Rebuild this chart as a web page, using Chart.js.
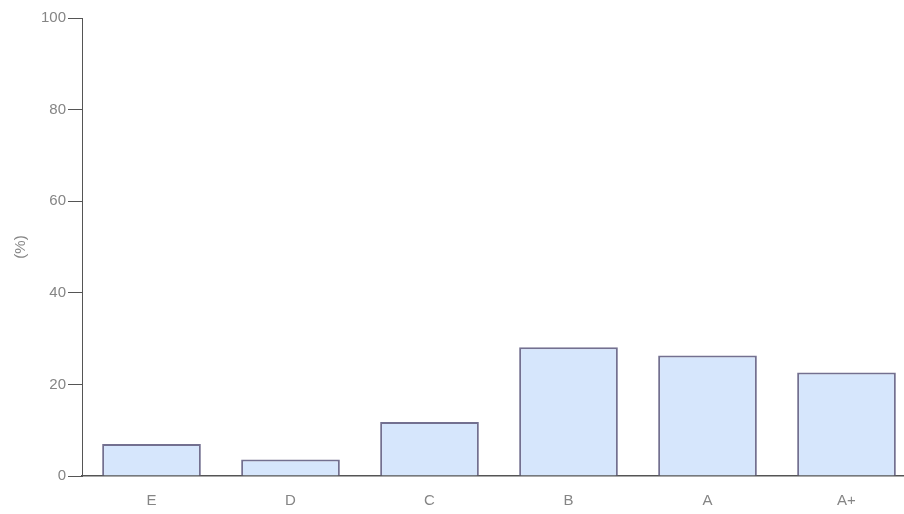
<!DOCTYPE html>
<html>
<head>
<meta charset="utf-8">
<script src="https://cdn.jsdelivr.net/npm/chart.js@4/dist/chart.umd.min.js"></script>
<style>
  html, body { margin: 0; padding: 0; background: #fff; overflow: hidden; }
  /* the original plot runs a little past the right edge of the window */
  #wrap { width: 916px; height: 514px; }
</style>
</head>
<body>
<div id="wrap"><canvas id="mycanvas"></canvas></div>
<script>
var grades = ['E', 'D', 'C', 'B', 'A', 'A+'];
var percent = [7.0, 3.6, 11.8, 28.1, 26.3, 22.6];
var yTicks = [0, 20, 40, 60, 80, 100];

var axisColor = '#555555';
var textColor = '#858585';
var fontFamily = 'Liberation Sans, Arial, sans-serif';

var ctx = document.getElementById('mycanvas');

var barGraph = new Chart(ctx, {
    type: 'bar',
    data: {
        labels: grades,
        datasets: [{
            label: '%',
            data: percent,
            backgroundColor: '#d6e6fc',
            borderColor: '#737090',
            borderWidth: 2,
            barPercentage: 0.71,
            categoryPercentage: 1
        }]
    },
    options: {
        responsive: true,
        maintainAspectRatio: false,
        animation: false,
        layout: { padding: { left: 10, top: 18, right: 0, bottom: 0 } },
        plugins: {
            legend: { display: false },
            tooltip: { enabled: false }
        },
        scales: {
            x: {
                grid: { display: false, drawTicks: false },
                border: { display: true, color: axisColor, width: 1.5 },
                ticks: {
                    color: textColor,
                    padding: 16,
                    font: { family: fontFamily, size: 15 }
                },
                afterFit: function(scale) { scale.height = 38; }
            },
            y: {
                min: 0,
                max: 100,
                afterBuildTicks: function(scale) {
                    scale.ticks = yTicks.map(function(v) { return { value: v }; });
                },
                grid: {
                    drawOnChartArea: false,
                    drawTicks: true,
                    tickLength: 14,
                    color: axisColor,
                    lineWidth: 1
                },
                border: { display: true, color: axisColor, width: 1 },
                ticks: {
                    color: textColor,
                    padding: 2,
                    font: { family: fontFamily, size: 15 }
                },
                title: {
                    display: true,
                    text: '(%)',
                    color: textColor,
                    padding: { top: 2, bottom: 0 },
                    font: { family: fontFamily, size: 15 }
                },
                afterFit: function(scale) { scale.width = 72; }
            }
        }
    }
});
</script>
</body>
</html>
